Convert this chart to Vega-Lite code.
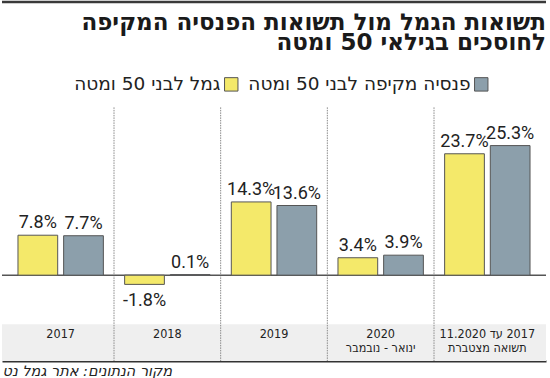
{
  "$schema": "https://vega.github.io/schema/vega-lite/v6.json",
  "autosize": {"type": "fit", "contains": "padding"},
  "width": 550,
  "height": 378,
  "padding": {"top": 0, "left": 0, "right": 2, "bottom": 0},
  "background": "white",
  "config": {
    "view": {"stroke": null},
    "locale": {"number": {"decimal": ".", "thousands": ",", "grouping": [3], "currency": ["$", ""], "minus": "-"}}
  },
  "title": {
    "text": ["תשואות הגמל מול תשואות הפנסיה המקיפה", "לחוסכים בגילאי 50 ומטה"],
    "anchor": "end",
    "frame": "group",
    "offset": -54,
    "font": "DejaVu Sans",
    "fontWeight": "bold",
    "fontSize": 23,
    "lineHeight": 19.5,
    "color": "#1a1a1a"
  },
  "datasets": {
    "returns": [
      {"cat": "2017", "series": "גמל לבני 50 ומטה", "value": 0.078},
      {"cat": "2017", "series": "פנסיה מקיפה לבני 50 ומטה", "value": 0.077},
      {"cat": "2018", "series": "גמל לבני 50 ומטה", "value": -0.018},
      {"cat": "2018", "series": "פנסיה מקיפה לבני 50 ומטה", "value": 0.001},
      {"cat": "2019", "series": "גמל לבני 50 ומטה", "value": 0.143},
      {"cat": "2019", "series": "פנסיה מקיפה לבני 50 ומטה", "value": 0.136},
      {"cat": "2020", "series": "גמל לבני 50 ומטה", "value": 0.034},
      {"cat": "2020", "series": "פנסיה מקיפה לבני 50 ומטה", "value": 0.039},
      {"cat": "cum", "series": "גמל לבני 50 ומטה", "value": 0.237},
      {"cat": "cum", "series": "פנסיה מקיפה לבני 50 ומטה", "value": 0.253}
    ],
    "cats": [
      {"cat": "2017", "label": "2017", "sep": true},
      {"cat": "2018", "label": "2018", "sep": true},
      {"cat": "2019", "label": "2019", "sep": true},
      {"cat": "2020", "label": "2020\nינואר - נובמבר", "sep": true},
      {"cat": "cum", "label": "11.2020 עד \u200e2017\nתשואה מצטברת", "sep": false}
    ]
  },
  "layer": [
    {
      "data": {"values": [{}]},
      "mark": {"type": "rect", "fill": "#efefef"},
      "encoding": {
        "y": {"datum": -0.096, "type": "quantitative", "scale": {"domain": [-0.1676, 0.5353], "nice": false, "zero": false}, "axis": null},
        "y2": {"datum": -0.1676}
      }
    },
    {
      "data": {"name": "cats"},
      "transform": [{"filter": "datum.sep"}],
      "mark": {"type": "rule", "stroke": "#8a8a8a", "strokeWidth": 1, "strokeDash": [1.5, 1]},
      "encoding": {
        "x": {"field": "cat", "type": "nominal", "bandPosition": 1, "scale": {"domain": ["2017", "2018", "2019", "2020", "cum"], "paddingInner": 0, "paddingOuter": 0.05},
          "axis": {"title": "מקור הנתונים: אתר גמל נט", "titleAnchor": "start", "titleFont": "DejaVu Sans", "titleFontSize": 14.5, "titleFontWeight": "normal", "titleFontStyle": "italic", "titleColor": "#222", "titlePadding": 3, "labels": false, "ticks": false, "grid": false, "domainColor": "#333", "domainWidth": 2}},
        "y": {"datum": 0.3276, "type": "quantitative"},
        "y2": {"datum": -0.1676}
      }
    },
    {
      "data": {"values": [{}]},
      "mark": {"type": "rule", "stroke": "#555", "strokeWidth": 1.5},
      "encoding": {"y": {"datum": 0, "type": "quantitative"}}
    },
    {
      "data": {"values": [{}]},
      "mark": {"type": "rule", "stroke": "#3a3a3a", "strokeWidth": 2.5},
      "encoding": {"y": {"datum": 0.5334, "type": "quantitative"}}
    },
    {
      "data": {"name": "returns"},
      "mark": {"type": "bar", "stroke": "#555", "strokeWidth": 1},
      "encoding": {
        "x": {"field": "cat", "type": "nominal"},
        "xOffset": {"field": "series", "type": "nominal", "scale": {"domain": ["גמל לבני 50 ומטה", "פנסיה מקיפה לבני 50 ומטה"], "paddingInner": 0.13, "paddingOuter": 0.233}},
        "y": {"field": "value", "type": "quantitative"},
        "color": {"field": "series", "type": "nominal",
          "scale": {"domain": ["גמל לבני 50 ומטה", "פנסיה מקיפה לבני 50 ומטה"], "range": ["#f4e96a", "#8c9fab"]},
          "legend": {"orient": "none", "legendX": 220, "legendY": 74, "direction": "horizontal", "title": null,
            "symbolType": "square", "symbolSize": 180, "symbolStrokeColor": "#555", "symbolStrokeWidth": 1,
            "labelAlign": "right", "labelOffset": -20, "labelFont": "DejaVu Sans", "labelFontSize": 18.5, "labelColor": "#222", "labelLimit": 400, "columnPadding": 8}}
      }
    },
    {
      "data": {"name": "returns"},
      "transform": [{"filter": "datum.value >= 0"}],
      "mark": {"type": "text", "baseline": "bottom", "dy": -3, "font": "Roboto", "fontSize": 18, "color": "#222"},
      "encoding": {
        "x": {"field": "cat", "type": "nominal"},
        "xOffset": {"field": "series", "type": "nominal"},
        "y": {"field": "value", "type": "quantitative"},
        "text": {"field": "value", "type": "quantitative", "format": ".1%"}
      }
    },
    {
      "data": {"name": "returns"},
      "transform": [{"filter": "datum.value < 0"}],
      "mark": {"type": "text", "baseline": "top", "dy": 8, "font": "Roboto", "fontSize": 18, "color": "#222"},
      "encoding": {
        "x": {"field": "cat", "type": "nominal"},
        "xOffset": {"field": "series", "type": "nominal"},
        "y": {"field": "value", "type": "quantitative"},
        "text": {"field": "value", "type": "quantitative", "format": ".1%"}
      }
    },
    {
      "data": {"name": "cats"},
      "mark": {"type": "text", "baseline": "top", "lineBreak": "\n", "lineHeight": 14, "font": "DejaVu Sans Condensed", "fontSize": 12.5, "color": "#222"},
      "encoding": {
        "x": {"field": "cat", "type": "nominal"},
        "y": {"datum": -0.1035, "type": "quantitative"},
        "text": {"field": "label"}
      }
    }
  ]
}
